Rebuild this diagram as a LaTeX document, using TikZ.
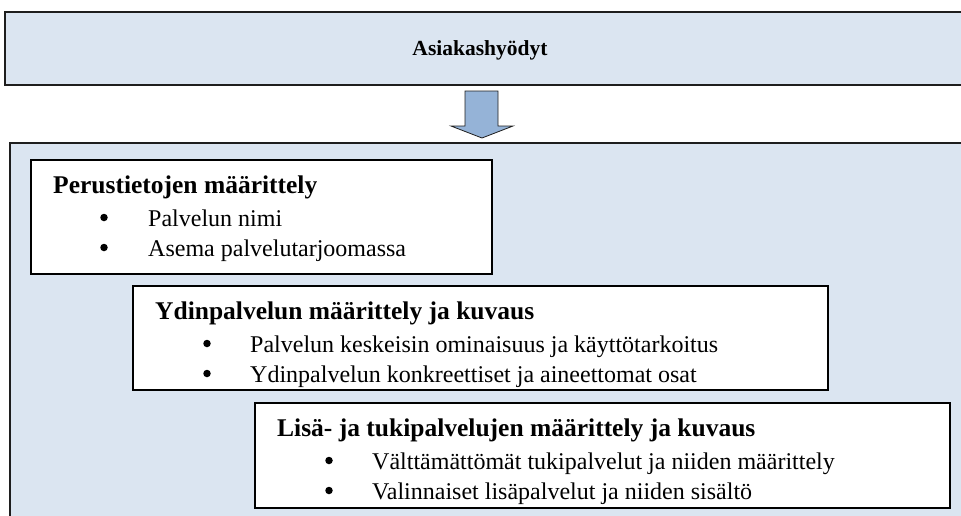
\documentclass[tikz,border=0pt]{standalone}
\usepackage{fontspec}
\setmainfont{Liberation Serif}
\begin{document}
\begin{tikzpicture}[x=1pt,y=-1pt]
\definecolor{panelblue}{RGB}{219,229,241}
\definecolor{arrowblue}{RGB}{149,179,215}
\definecolor{edgegray}{RGB}{30,30,30}
\tikzset{
  panel/.style={draw=edgegray, line width=1.6pt, fill=panelblue},
  stagebox/.style={draw=black, line width=2pt, fill=white},
  headtxt/.style={anchor=base west, inner sep=0pt, font=\fontsize{25.5}{30}\selectfont\bfseries},
  itemtxt/.style={anchor=base west, inner sep=0pt, font=\fontsize{24}{28}\selectfont},
  dot/.style={circle, fill=black, inner sep=0pt, minimum size=7.5pt},
}
\useasboundingbox (0,0) rectangle (961,515);
\clip (0,0) rectangle (961,515);

% outer panels
\draw[panel] (5,12) rectangle (975,85);
\node[anchor=base, inner sep=0pt, font=\fontsize{21.5}{26}\selectfont\bfseries] (benefit) at (480,55) {Asiakashyödyt};
\draw[panel] (10,143) rectangle (975,530);

% down arrow between the panels
\draw[draw=edgegray, line width=0.8pt, fill=arrowblue]
  (465,91) -- (498,91) -- (498,126) -- (513,126) -- (482,138) -- (451,126) -- (465,126) -- cycle;

% stage 1
\draw[stagebox] (31,160) rectangle (492,274);
\node[headtxt] (t1) at (53,193) {Perustietojen määrittely};
\node[dot] (b11) at (104,217.5) {};
\node[itemtxt] (i11) at (148,226) {Palvelun nimi};
\node[dot] (b12) at (104,247.5) {};
\node[itemtxt] (i12) at (148,256) {Asema palvelutarjoomassa};

% stage 2
\draw[stagebox] (133,286) rectangle (828,390);
\begin{scope}
  \clip (133,286) rectangle (828,389);
  \node[headtxt] (t2) at (155,319) {Ydinpalvelun määrittely ja kuvaus};
  \node[dot] (b21) at (207,343.5) {};
  \node[itemtxt] (i21) at (250,352) {Palvelun keskeisin ominaisuus ja käyttötarkoitus};
  \node[dot] (b22) at (207,373.5) {};
  \node[itemtxt] (i22) at (250,382) {Ydinpalvelun konkreettiset ja aineettomat osat};
\end{scope}

% stage 3
\draw[stagebox] (255,403) rectangle (950,508);
\begin{scope}
  \clip (255,403) rectangle (950,507);
  \node[headtxt] (t3) at (277,436) {Lisä- ja tukipalvelujen määrittely ja kuvaus};
  \node[dot] (b31) at (329,460.5) {};
  \node[itemtxt] (i31) at (372,469) {Välttämättömät tukipalvelut ja niiden määrittely};
  \node[dot] (b32) at (329,490.5) {};
  \node[itemtxt] (i32) at (372,499) {Valinnaiset lisäpalvelut ja niiden sisältö};
\end{scope}
\end{tikzpicture}
\end{document}
